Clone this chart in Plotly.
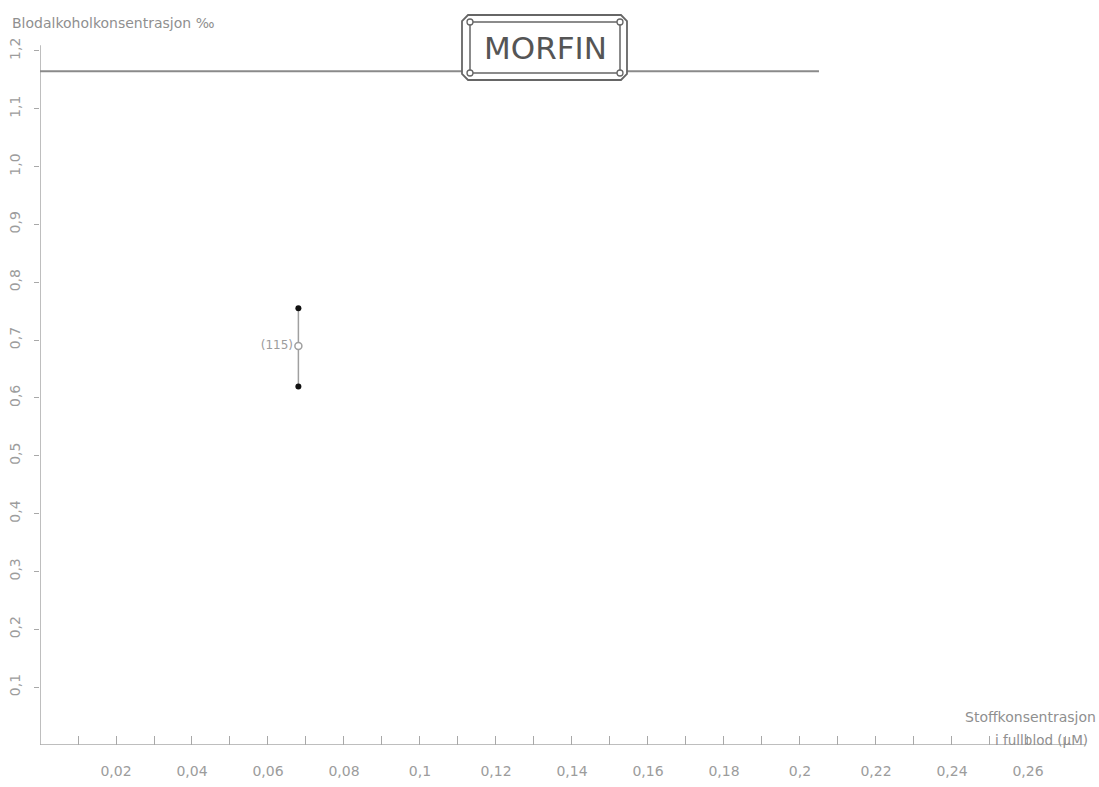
import plotly.graph_objects as go

# Substance concentration in whole blood (µM) and blood alcohol (‰)
morfin_conc = [0.068]
bac_high = [0.755]
bac_mean = [0.69]
bac_low = [0.62]
n_cases = [115]

x_tick_vals = [round(0.01 * i, 2) for i in range(1, 28)]
x_tick_text = ["0,02", "0,04", "0,06", "0,08", "0,1", "0,12", "0,14",
               "0,16", "0,18", "0,2", "0,22", "0,24", "0,26"]
y_tick_vals = [0.1, 0.2, 0.3, 0.4, 0.5, 0.6, 0.7, 0.8, 0.9, 1.0, 1.1, 1.2]
y_tick_text = ["0,1", "0,2", "0,3", "0,4", "0,5", "0,6", "0,7", "0,8",
               "0,9", "1,0", "1,1", "1,2"]

upper_line_y = 1.165
upper_line_end = 0.205

X_MAX = 0.2758
Y_MAX = 1.25

GREY = "#9c9c9c"
AXIS = "#a8a8a8"
DARK = "#666666"
FONT = "DejaVu Sans"

W, H = 1099, 787
L, R, T, B = 40, 1088, 22, 745


def xp(px):
    return (px - L) / (R - L)


def yp(py):
    return (B - py) / (B - T)


# every 0.01 gets a tick, every 0.02 a label
tick_labels = []
it = iter(x_tick_text)
for i, v in enumerate(x_tick_vals):
    tick_labels.append(next(it) if (i % 2 == 1) else "")

fig = go.Figure()

# spread between the two outer values
for xv, lo, hi in zip(morfin_conc, bac_low, bac_high):
    fig.add_trace(go.Scatter(
        x=[xv, xv], y=[lo, hi], mode="lines",
        line=dict(color="#a0a0a0", width=1.5),
        hoverinfo="skip", showlegend=False))

fig.add_trace(go.Scatter(
    x=morfin_conc + morfin_conc, y=bac_high + bac_low, mode="markers",
    marker=dict(color="#111111", size=6),
    showlegend=False))

fig.add_trace(go.Scatter(
    x=morfin_conc, y=bac_mean, mode="markers+text",
    marker=dict(color="white", size=7, line=dict(color="#a0a0a0", width=1.5)),
    text=[f"({n})" for n in n_cases], textposition="middle left",
    textfont=dict(family=FONT, size=12, color=GREY),
    showlegend=False))

shapes = []
# axis lines
shapes.append(dict(type="line", xref="x", yref="y", x0=0, x1=0, y0=0, y1=1.21,
                   line=dict(color=AXIS, width=1.5)))
shapes.append(dict(type="line", xref="x", yref="y", x0=0, x1=X_MAX * 0.998,
                   y0=0, y1=0, line=dict(color=AXIS, width=1.5)))
# horizontal line near the top
shapes.append(dict(type="line", xref="x", yref="y", x0=0, x1=upper_line_end,
                   y0=upper_line_y, y1=upper_line_y,
                   line=dict(color="#8a8a8a", width=2)))

# title frame: chamfered outer border, inner border with notched corners
ox0, ox1, oy0, oy1, c = 462, 627, 15, 80, 6
outer = [(ox0 + c, oy0), (ox1 - c, oy0), (ox1, oy0 + c), (ox1, oy1 - c),
         (ox1 - c, oy1), (ox0 + c, oy1), (ox0, oy1 - c), (ox0, oy0 + c)]
path = "M " + " L ".join(f"{xp(a):.5f},{yp(b):.5f}" for a, b in outer) + " Z"
shapes.append(dict(type="path", xref="paper", yref="paper", path=path,
                   fillcolor="white", line=dict(color=DARK, width=1.8)))
ix0, ix1, iy0, iy1 = 470, 620, 22, 73
shapes.append(dict(type="rect", xref="paper", yref="paper",
                   x0=xp(ix0), x1=xp(ix1), y0=yp(iy1), y1=yp(iy0),
                   fillcolor="white", line=dict(color=DARK, width=1.5)))
r = 3
for cx, cy in [(ix0, iy0), (ix1, iy0), (ix0, iy1), (ix1, iy1)]:
    shapes.append(dict(type="circle", xref="paper", yref="paper",
                       x0=xp(cx - r), x1=xp(cx + r), y0=yp(cy + r), y1=yp(cy - r),
                       fillcolor="white", line=dict(color=DARK, width=1.3)))

annotations = [
    dict(text="MORFIN", xref="paper", yref="paper", x=xp(545), y=yp(48),
         showarrow=False, xanchor="center", yanchor="middle",
         font=dict(family=FONT, size=31, color="#555555")),
    dict(text="Blodalkoholkonsentrasjon ‰", xref="paper", yref="paper",
         x=xp(10), y=yp(23), showarrow=False, xanchor="left", yanchor="middle",
         font=dict(family=FONT, size=14, color="#8f8f8f")),
    dict(text="Stoffkonsentrasjon", xref="paper", yref="paper",
         x=xp(1098), y=yp(717), showarrow=False, xanchor="right", yanchor="middle",
         font=dict(family=FONT, size=14, color="#8f8f8f")),
    dict(text="i fullblod (µM)", xref="paper", yref="paper",
         x=xp(1090), y=yp(740), showarrow=False, xanchor="right", yanchor="middle",
         font=dict(family=FONT, size=13.5, color="#8f8f8f")),
]

fig.update_layout(
    width=W, height=H,
    margin=dict(l=L, r=W - R, t=T, b=H - B, pad=0, autoexpand=False),
    paper_bgcolor="white", plot_bgcolor="white",
    shapes=shapes, annotations=annotations,
    xaxis=dict(range=[0, X_MAX], showgrid=False, zeroline=False, showline=False,
               automargin=False,
               tickmode="array", tickvals=x_tick_vals, ticktext=tick_labels,
               ticks="inside", ticklen=9, tickwidth=1.3, tickcolor=AXIS,
               ticklabelstandoff=16,
               tickfont=dict(family=FONT, size=14, color=GREY)),
    yaxis=dict(range=[0, Y_MAX], showgrid=False, zeroline=False, showline=False,
               automargin=False,
               tickmode="array", tickvals=y_tick_vals, ticktext=y_tick_text,
               ticks="outside", ticklen=5, tickwidth=1.3, tickcolor=AXIS,
               tickangle=-90, ticklabelstandoff=8,
               tickfont=dict(family=FONT, size=14, color=GREY)),
)

fig.write_html("out.html")
